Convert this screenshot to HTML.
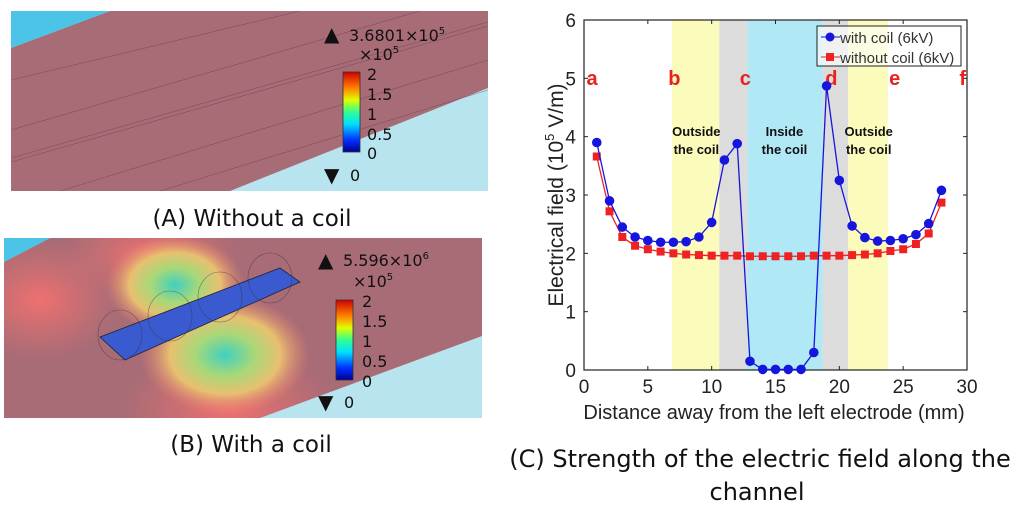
<!DOCTYPE html>
<html><head><meta charset="utf-8"><style>
body{margin:0;background:#fff;}
svg{display:block;font-family:"Liberation Sans",sans-serif;}
.cap{font-family:"DejaVu Sans","Liberation Sans",sans-serif;}
</style></head><body>
<svg width="1024" height="513" viewBox="0 0 1024 513">
<defs>
<linearGradient id="cb" x1="0" y1="1" x2="0" y2="0">
<stop offset="0" stop-color="#00008f"/><stop offset="0.15" stop-color="#0030ff"/><stop offset="0.35" stop-color="#00e0ff"/><stop offset="0.5" stop-color="#30ff90"/><stop offset="0.65" stop-color="#e0ff00"/><stop offset="0.8" stop-color="#ff8000"/><stop offset="1" stop-color="#d00000"/>
</linearGradient>
<radialGradient id="blobY" cx="0.5" cy="0.5" r="0.5">
<stop offset="0" stop-color="#40d0c0"/><stop offset="0.35" stop-color="#a8d878"/><stop offset="0.65" stop-color="#e8c070"/><stop offset="1" stop-color="#e88070" stop-opacity="0"/>
</radialGradient>
<radialGradient id="redGlow" cx="0.5" cy="0.5" r="0.5">
<stop offset="0" stop-color="#f07070"/><stop offset="1" stop-color="#e07070" stop-opacity="0"/>
</radialGradient>
</defs>
<!-- Panel A -->
<g>
<rect x="11" y="11" width="477" height="180" fill="#b8e4f0"/>
<polygon points="11,48 110,11 488,11 488,88 230,191 11,191" fill="#a86c76"/>
<polygon points="11,11 110,11 11,48" fill="#4cc4e8"/>
<g stroke="#5a4048" stroke-width="0.6" opacity="0.6">
<line x1="11" y1="80" x2="300" y2="11"/><line x1="11" y1="130" x2="420" y2="11"/><line x1="11" y1="158" x2="488" y2="22"/><line x1="11" y1="162" x2="488" y2="26"/><line x1="60" y1="191" x2="488" y2="60"/><line x1="160" y1="191" x2="488" y2="90"/>
</g>
<rect x="343" y="72" width="17" height="80" fill="url(#cb)" stroke="#333" stroke-width="0.8"/>
<g font-size="16" fill="#111" font-family="DejaVu Sans,sans-serif">
<text x="324" y="41" font-size="20">▲</text><text x="349" y="41">3.6801×10<tspan font-size="10" dy="-7">5</tspan></text>
<text x="359" y="60">×10<tspan font-size="10" dy="-7">5</tspan></text>
<text x="367" y="80">2</text><text x="367" y="100">1.5</text><text x="367" y="120">1</text><text x="367" y="140">0.5</text><text x="367" y="159">0</text>
<text x="324" y="182" font-size="20">▼</text><text x="350" y="181">0</text>
</g>
</g>
<text class="cap" x="252" y="226" font-size="23" text-anchor="middle" fill="#111">(A) Without a coil</text>
<!-- Panel B -->
<g>
<rect x="4" y="238" width="478" height="180" fill="#b8e4f0"/>
<polygon points="4,262 50,238 482,238 482,336 260,418 4,418" fill="#a86c76"/>
<polygon points="4,238 50,238 4,262" fill="#4cc4e8"/>
<clipPath id="bclip"><polygon points="4,262 50,238 482,238 482,336 260,418 4,418"/></clipPath>
<g clip-path="url(#bclip)">
<ellipse cx="40" cy="300" rx="80" ry="60" fill="url(#redGlow)"/>
<ellipse cx="230" cy="410" rx="110" ry="60" fill="url(#redGlow)"/>
<ellipse cx="150" cy="255" rx="90" ry="45" fill="url(#redGlow)"/>
<ellipse cx="175" cy="285" rx="70" ry="50" fill="url(#blobY)"/>
<ellipse cx="225" cy="355" rx="85" ry="60" fill="url(#blobY)"/>
</g>
<polygon points="100,337 280,268 300,282 125,360" fill="#3a5ad0" stroke="#223" stroke-width="0.8"/>
<g stroke="#334" stroke-width="0.6" fill="none" opacity="0.6">
<ellipse cx="120" cy="335" rx="22" ry="25"/><ellipse cx="170" cy="316" rx="22" ry="25"/><ellipse cx="220" cy="297" rx="22" ry="25"/><ellipse cx="270" cy="278" rx="22" ry="25"/>
</g>
<rect x="336" y="300" width="17" height="80" fill="url(#cb)" stroke="#333" stroke-width="0.8"/>
<g font-size="16" fill="#111" font-family="DejaVu Sans,sans-serif">
<text x="318" y="267" font-size="20">▲</text><text x="343" y="266">5.596×10<tspan font-size="10" dy="-7">6</tspan></text>
<text x="353" y="287">×10<tspan font-size="10" dy="-7">5</tspan></text>
<text x="362" y="307">2</text><text x="362" y="327">1.5</text><text x="362" y="347">1</text><text x="362" y="367">0.5</text><text x="362" y="387">0</text>
<text x="318" y="409" font-size="20">▼</text><text x="344" y="408">0</text>
</g>
</g>
<text class="cap" x="251" y="452" font-size="23" text-anchor="middle" fill="#111">(B) With a coil</text>
<!-- Chart C -->
<g id="chart"></g>
<text class="cap" x="760" y="467" font-size="24" text-anchor="middle" fill="#111">(C) Strength of the electric field along the</text>
<text class="cap" x="757" y="500" font-size="24" text-anchor="middle" fill="#111">channel</text>
</svg>
<script>
const xs=[1,2,3,4,5,6,7,8,9,10,11,12,13,14,15,16,17,18,19,20,21,22,23,24,25,26,27,28];
const withCoil=[3.9,2.9,2.45,2.28,2.22,2.19,2.19,2.2,2.28,2.53,3.6,3.88,0.15,0.01,0.01,0.01,0.01,0.3,4.87,3.25,2.47,2.27,2.21,2.22,2.25,2.32,2.51,3.08];
const withoutCoil=[3.66,2.72,2.28,2.13,2.07,2.03,2.0,1.98,1.97,1.96,1.96,1.96,1.95,1.95,1.95,1.95,1.95,1.96,1.96,1.96,1.97,1.98,2.0,2.04,2.07,2.16,2.34,2.87];
const xTicks=[0,5,10,15,20,25,30];
const yTicks=[0,1,2,3,4,5,6];
const bandStarts=[6.9,10.6,12.8,18.7,20.7];
const bandEnds=[10.6,12.8,18.7,20.7,23.8];
const bandColors=["#fbfbbc","#dcdcdc","#b0e8f6","#dcdcdc","#fbfbbc"];
const letters=["a","b","c","d","e","f"];
const letterX=[0.2,6.6,12.2,18.9,23.9,29.4];
const NS="http://www.w3.org/2000/svg";
const g=document.getElementById('chart');
const X=v=>584+v*(967-584)/30, Y=v=>370-v*(350/6);
function mk(t,a,p){const e=document.createElementNS(NS,t);for(const k in a)e.setAttribute(k,a[k]);(p||g).appendChild(e);return e;}
bandStarts.forEach((s,i)=>{const r=mk('rect',{x:X(s),y:Y(6),width:X(bandEnds[i])-X(s),height:Y(0)-Y(6),fill:bandColors[i]});

});
const ax=mk('rect',{x:X(0),y:Y(6),width:X(30)-X(0),height:Y(0)-Y(6),fill:'none',stroke:'#222','stroke-width':1.2});


xTicks.forEach(t=>{mk('line',{x1:X(t),x2:X(t),y1:Y(0),y2:Y(0)-4,stroke:'#222'});mk('line',{x1:X(t),x2:X(t),y1:Y(6),y2:Y(6)+4,stroke:'#222'});
const l=mk('text',{x:X(t),y:393,'font-size':19,'text-anchor':'middle',fill:'#222'});l.textContent=t;

});
yTicks.forEach(t=>{mk('line',{x1:X(0),x2:X(0)+4,y1:Y(t),y2:Y(t),stroke:'#222'});mk('line',{x1:X(30),x2:X(30)-4,y1:Y(t),y2:Y(t),stroke:'#222'});
const l=mk('text',{x:576,y:Y(t)+7,'font-size':19,'text-anchor':'end',fill:'#222'});l.textContent=t;

});
const xl=mk('text',{x:774,y:419,'font-size':20,'text-anchor':'middle',fill:'#222'});xl.textContent='Distance away from the left electrode (mm)';


const yl=mk('text',{x:0,y:0,'font-size':21,'text-anchor':'middle',fill:'#222',transform:'translate(563,195) rotate(-90)'});yl.innerHTML='Electrical field (10<tspan font-size="13" dy="-9">5</tspan><tspan dy="9"> V/m)</tspan>';


letters.forEach((s,i)=>{const l=mk('text',{x:X(letterX[i]),y:85,'font-size':20,'font-weight':'bold',fill:'#e8231f'});l.textContent=s;

});
[["Outside","the coil",X(8.8)],["Inside","the coil",X(15.7)],["Outside","the coil",X(22.3)]].forEach(a=>{
[0,1].forEach(j=>{const l=mk('text',{x:a[2],y:136+j*18,'font-size':13,'font-weight':'bold','text-anchor':'middle',fill:'#111'});l.textContent=a[j];

});});
function series(vals,color,sq,name){
const p=mk('polyline',{points:xs.map((x,i)=>X(x)+','+Y(vals[i])).join(' '),fill:'none',stroke:color,'stroke-width':1.3});


xs.forEach((x,i)=>{const m=sq?mk('rect',{x:X(x)-4,y:Y(vals[i])-4,width:8,height:8,fill:color}):mk('circle',{cx:X(x),cy:Y(vals[i]),r:4.8,fill:color});

});}
series(withoutCoil,'#ee2222',true,'without-coil');
series(withCoil,'#1515dd',false,'with-coil');
const lg=mk('g',{});


mk('rect',{x:817,y:26,width:144,height:40,fill:'#fff','fill-opacity':0.6,stroke:'#222'},lg);
mk('line',{x1:821,x2:840,y1:37,y2:37,stroke:'#1515dd'},lg);mk('circle',{cx:830,cy:37,r:4.5,fill:'#1515dd'},lg);
mk('line',{x1:821,x2:840,y1:57,y2:57,stroke:'#ee2222'},lg);mk('rect',{x:826,y:53,width:8,height:8,fill:'#ee2222'},lg);
const t1=mk('text',{x:840,y:43,'font-size':15,fill:'#333'},lg);t1.textContent='with coil (6kV)';


const t2=mk('text',{x:840,y:63,'font-size':15,fill:'#333'},lg);t2.textContent='without coil (6kV)';


</script>
</body></html>
